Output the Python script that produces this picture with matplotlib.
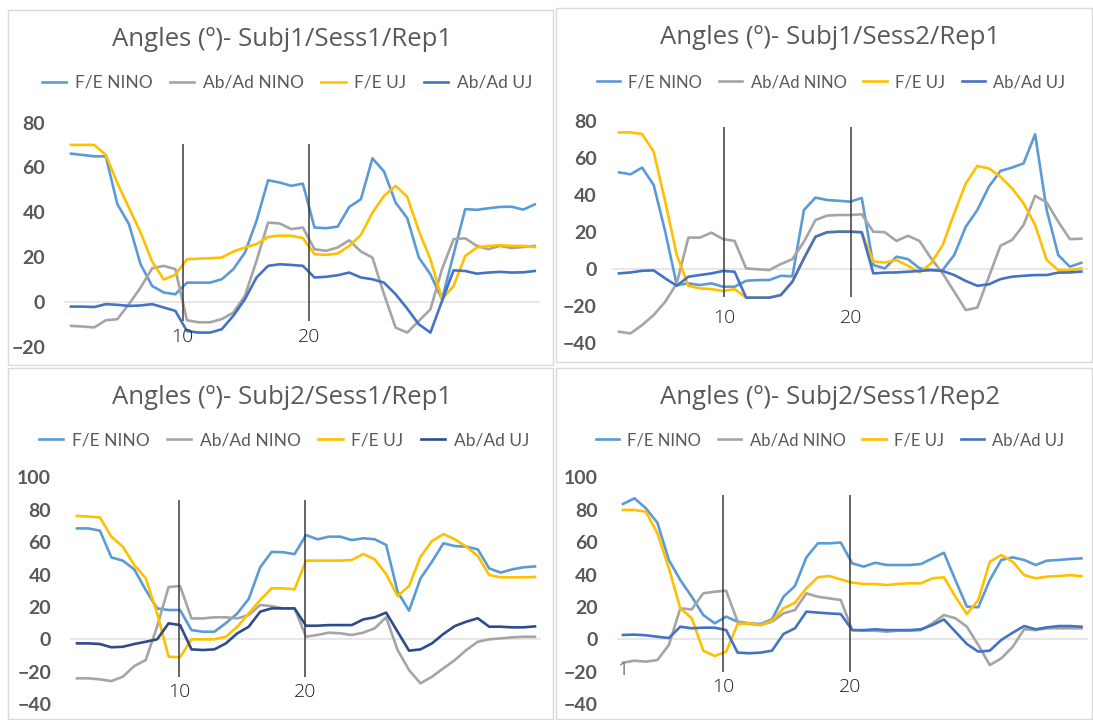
import numpy as np
import matplotlib.pyplot as plt
from matplotlib.lines import Line2D
from matplotlib.patches import Rectangle

plt.rcParams['font.family'] = ['Lato', 'DejaVu Sans']

labels = ["F/E NINO", "Ab/Ad NINO", "F/E UJ", "Ab/Ad UJ"]
titles = ["Angles (º)- Subj1/Sess1/Rep1", "Angles (º)- Subj1/Sess2/Rep1",
          "Angles (º)- Subj2/Sess1/Rep1", "Angles (º)- Subj2/Sess1/Rep2"]

# Subj1 / Sess1 / Rep1
s1s1r1_fe_nino = [66.2, 65.6, 65.0, 65.0, 43.6, 34.7, 16.8, 7.1, 4.2, 3.4, 8.6, 8.6, 8.6, 10.1,
                  14.6, 22.0, 36.2, 54.3, 53.3, 51.8, 52.8, 33.2, 32.9, 33.6, 42.4, 45.8, 64.1,
                  58.2, 44.3, 37.4, 19.8, 12.3, 1.2, 21.3, 41.4, 41.1, 41.8, 42.4, 42.5, 41.2, 43.5]
s1s1r1_ab_nino = [-10.7, -11.0, -11.4, -8.2, -7.7, -1.0, 6.4, 15.0, 16.1, 14.6, -8.2, -9.1, -9.1,
                  -7.7, -4.8, 2.7, 18.3, 35.4, 35.0, 32.5, 33.2, 23.5, 22.8, 24.3, 27.5, 22.5,
                  19.8, 3.4, -11.5, -13.7, -8.5, -3.3, 14.6, 28.0, 28.4, 25.0, 23.5, 25.0, 24.0,
                  24.5, 25.0]
s1s1r1_fe_uj = [70.1, 70.1, 70.1, 65.6, 53.0, 42.0, 31.0, 18.0, 10.0, 12.1, 19.0, 19.3, 19.5,
                19.8, 22.5, 24.3, 25.8, 29.0, 29.6, 29.5, 28.5, 21.3, 21.0, 21.6, 25.0, 29.9,
                39.9, 47.3, 51.8, 46.9, 31.7, 19.0, 1.2, 7.1, 20.5, 24.3, 25.0, 25.3, 25.0, 25.0,
                24.5]
s1s1r1_ab_uj = [-2.1, -2.1, -2.3, -1.0, -1.3, -1.8, -1.6, -1.0, -2.5, -4.0, -13.0, -13.7, -13.7,
                -12.2, -6.2, 1.2, 10.9, 16.1, 16.8, 16.5, 16.1, 10.9, 11.2, 11.9, 13.1, 10.9,
                10.1, 8.6, 3.4, -3.0, -10.0, -13.7, 0.4, 14.1, 13.8, 12.6, 13.1, 13.4, 13.1, 13.2,
                13.8]

# Subj1 / Sess2 / Rep1
s1s2r1_fe_nino = [52.3, 51.3, 54.9, 45.5, 20.3, -8.5, -7.6, -8.5, -7.6, -9.4, -9.4, -6.2, -5.8,
                  -5.8, -3.5, -3.8, 32.0, 38.7, 37.4, 37.0, 36.5, 38.5, 2.3, 0.5, 6.8, 5.5, 0.5,
                  -0.4, -0.4, 7.7, 23.0, 32.0, 44.6, 53.1, 54.9, 57.2, 72.9, 32.0, 7.7, 1.4, 3.5]
s1s2r1_ab_nino = [-33.7, -34.6, -30.1, -24.7, -17.5, -7.6, 17.1, 17.1, 19.8, 16.3, 15.3, 0.5, 0.0,
                  -0.4, 2.8, 5.5, 14.9, 26.6, 29.0, 29.3, 29.3, 29.7, 20.3, 20.0, 15.3, 18.1, 15.3,
                  5.9, -2.2, -12.1, -22.0, -20.7, -4.0, 12.7, 15.8, 23.9, 39.7, 36.1, 25.7, 16.3,
                  16.5]
s1s2r1_fe_uj = [73.9, 73.9, 73.0, 63.5, 36.5, 7.7, -8.9, -10.3, -10.7, -11.7, -10.7, -15.3, -15.3,
                -15.3, -13.9, -6.7, 5.9, 17.6, 20.0, 20.3, 20.3, 20.0, 4.1, 3.7, 5.0, 1.9, -1.7,
                3.2, 13.1, 30.2, 46.4, 55.8, 54.5, 50.0, 43.7, 35.6, 23.9, 5.0, -0.4, -0.4, 0.5]
s1s2r1_ab_uj = [-2.2, -1.7, -0.8, -0.6, -4.9, -8.9, -4.0, -3.1, -2.2, -0.9, -1.3, -15.3, -15.3,
                -15.3, -13.9, -6.7, 5.9, 17.6, 20.0, 20.3, 20.3, 20.0, -2.2, -1.8, -1.7, -1.3,
                -0.9, -0.4, -0.9, -3.1, -6.3, -8.9, -8.1, -5.3, -4.0, -3.5, -3.1, -3.1, -1.8,
                -1.7, -1.2]

# Subj2 / Sess1 / Rep1
s2s1r1_fe_nino = [68.5, 68.5, 67.1, 50.6, 48.6, 43.2, 30.5, 19.1, 18.1, 18.1, 5.7, 4.7, 4.7, 10.0,
                  16.0, 25.0, 44.5, 54.0, 53.8, 52.6, 64.4, 61.8, 63.4, 63.4, 61.3, 62.4, 61.8,
                  58.3, 29.4, 17.7, 37.6, 47.9, 59.3, 57.6, 57.2, 55.6, 43.8, 41.2, 43.2, 44.5,
                  45.0]
s2s1r1_ab_nino = [-24.1, -24.1, -24.7, -25.8, -23.1, -16.5, -12.8, 8.0, 32.3, 32.9, 12.9, 12.9,
                  13.6, 13.6, 12.9, 15.0, 21.2, 20.5, 19.1, 19.1, 1.6, 2.7, 4.1, 3.7, 2.7, 4.1,
                  6.8, 13.6, -6.6, -19.0, -27.2, -23.1, -17.9, -12.8, -6.6, -1.5, 0.0, 0.6, 1.2,
                  1.6, 1.6]
s2s1r1_fe_uj = [76.2, 75.8, 75.3, 63.4, 57.2, 45.9, 37.7, 16.0, -10.7, -11.1, 0.0, 0.0, 0.0, 1.6,
                7.8, 16.0, 24.3, 31.5, 31.5, 30.9, 48.6, 48.6, 48.6, 48.6, 49.0, 52.7, 49.4, 40.3,
                26.7, 32.9, 51.0, 60.7, 65.0, 61.8, 57.2, 51.5, 39.7, 38.3, 38.3, 38.3, 38.5]
s2s1r1_ab_uj = [-2.5, -2.5, -2.9, -4.9, -4.6, -2.9, -1.5, 0.0, 9.9, 8.8, -6.2, -6.6, -6.2, -2.5,
                3.7, 7.8, 17.1, 19.1, 19.1, 19.1, 8.4, 8.4, 8.8, 8.8, 8.8, 12.3, 13.6, 16.5, 4.7,
                -7.0, -6.2, -2.5, 3.3, 8.2, 10.9, 13.0, 7.8, 7.8, 7.4, 7.4, 8.0]

# Subj2 / Sess1 / Rep2
s2s1r2_fe_nino = [83.6, 87.1, 80.9, 72.0, 49.0, 36.6, 26.3, 15.0, 9.9, 14.0, 10.9, 9.9, 9.5, 12.3,
                  26.3, 32.9, 50.6, 59.3, 59.3, 59.8, 46.9, 44.9, 47.3, 45.9, 45.9, 45.9, 46.5,
                  50.0, 53.5, 36.6, 20.2, 19.8, 36.6, 49.0, 50.6, 49.0, 45.9, 48.6, 49.0, 49.6,
                  50.0]
s2s1r2_ab_nino = [-14.4, -13.2, -13.8, -12.8, -3.5, 19.1, 18.5, 28.4, 29.4, 30.0, 10.9, 9.5, 8.8,
                  10.9, 16.0, 18.1, 28.4, 26.3, 25.3, 24.3, 5.7, 5.3, 5.3, 4.7, 5.3, 5.3, 5.7, 9.9,
                  15.0, 13.0, 7.8, -3.5, -15.9, -11.8, -4.6, 6.2, 5.7, 6.8, 6.8, 6.8, 6.8]
s2s1r2_fe_uj = [79.9, 79.9, 78.8, 65.5, 44.0, 19.1, 13.0, -7.0, -10.3, -7.6, 9.5, 9.9, 8.8, 11.5,
                19.1, 22.6, 31.5, 38.3, 39.1, 37.0, 35.0, 34.2, 34.2, 33.5, 34.2, 34.6, 34.6, 37.7,
                38.3, 26.3, 15.6, 24.3, 47.9, 52.1, 47.9, 39.7, 37.7, 38.7, 39.1, 39.7, 39.0]
s2s1r2_ab_uj = [2.7, 2.9, 2.5, 1.6, 0.8, 7.8, 6.8, 7.2, 7.2, 5.7, -8.2, -8.6, -8.2, -7.0, 3.3,
                6.8, 17.1, 16.5, 16.0, 15.6, 5.7, 5.7, 6.2, 5.7, 5.7, 5.7, 6.2, 8.8, 12.3, 4.7,
                -2.9, -7.6, -7.0, -0.4, 4.1, 8.2, 6.2, 7.4, 8.2, 8.2, 7.8]

data = [
    [s1s1r1_fe_nino, s1s1r1_ab_nino, s1s1r1_fe_uj, s1s1r1_ab_uj],
    [s1s2r1_fe_nino, s1s2r1_ab_nino, s1s2r1_fe_uj, s1s2r1_ab_uj],
    [s2s1r1_fe_nino, s2s1r1_ab_nino, s2s1r1_fe_uj, s2s1r1_ab_uj],
    [s2s1r2_fe_nino, s2s1r2_ab_nino, s2s1r2_fe_uj, s2s1r2_ab_uj],
]

blue, grey, gold, navy = '#5B9BD5', '#A5A5A5', '#FFC000', '#4472C4'

# pixel layout of each chart: plot box, chart frame, title / legend centres
layout = [
    dict(box=(64, 540, 122.7, 346.7), frame=(8, 553, 10, 365), title=(282, 40), leg=(287, 83),
         xlim=(0.602, 38.29), ylim=(-20, 80), t0=1.156, dt=0.918, vl=(-8.5, 70.5), lab=-15.7,
         pad=13.5, dark=navy, lsize=12.5),
    dict(box=(612, 1088, 121.1, 343.4), frame=(556, 1092, 8, 362), title=(830, 38), leg=(831, 82),
         xlim=(1.153, 38.75), ylim=(-40, 80), t0=1.706, dt=0.913, vl=(-15.2, 77), lab=-26.3,
         pad=11, dark=navy, lsize=12),
    dict(box=(70, 541, 477.4, 704.1), frame=(8, 553, 368, 719), title=(282, 397), leg=(284, 440),
         xlim=(1.349, 38.73), ylim=(-40, 100), t0=1.905, dt=0.9087, vl=(-23.4, 86), lab=-32.4,
         pad=13.5, dark='#2F4B8A', lsize=12.5),
    dict(box=(617, 1088, 477.4, 704.1), frame=(556, 1092, 368, 719), title=(830, 397), leg=(830, 440),
         xlim=(1.61, 38.78), ylim=(-40, 100), t0=2.084, dt=0.9045, vl=(-20, 89.1), lab=-29.3,
         pad=14, dark=navy, lsize=12),
]

W, H = 1093, 720
fig = plt.figure(figsize=(W / 100, H / 100), dpi=100)
fig.patch.set_facecolor('white')

for i, (series, lay) in enumerate(zip(data, layout)):
    fx0, fx1, fy0, fy1 = lay['frame']
    fig.patches.append(Rectangle((fx0 / W, 1 - fy1 / H), (fx1 - fx0) / W, (fy1 - fy0) / H,
                                 transform=fig.transFigure, fill=False, ec='#D9D9D9', lw=1))

    x0, x1, y0, y1 = lay['box']
    ax = fig.add_axes([x0 / W, 1 - y1 / H, (x1 - x0) / W, (y1 - y0) / H])
    ax.set_facecolor('none')
    colors = [blue, grey, gold, lay['dark']]

    t = lay['t0'] + lay['dt'] * np.arange(len(series[0]))
    ax.axhline(0, color='#E3E3E3', lw=1.2, zorder=1)
    for vals, c in zip(series, colors):
        ax.plot(t, vals, color=c, lw=1.9, solid_joinstyle='round', zorder=3)

    # hand-placed markers at 10 and 20
    for m in (10, 20):
        ax.vlines(m, lay['vl'][0], lay['vl'][1], color='#3A3A3A', lw=1.1, zorder=4)
        ax.text(m, lay['lab'], str(m), ha='center', va='center', fontsize=14,
                color='#1E1E1E', family=['Open Sans', 'DejaVu Sans'], fontweight='light',
                zorder=5)
    if i == 3:
        ax.text(t[0], -19, '1', ha='center', va='center', fontsize=14, color='#7F7F7F',
                family=['Open Sans', 'DejaVu Sans'])

    ax.set_xlim(*lay['xlim'])
    ax.set_ylim(*lay['ylim'])
    ax.set_xticks([])
    ax.set_yticks(np.arange(lay['ylim'][0], lay['ylim'][1] + 1, 20))
    ax.tick_params(axis='y', length=0, pad=lay['pad'], labelsize=14, labelcolor='#595959')
    for lbl in ax.get_yticklabels():
        lbl.set_fontweight('bold')
    for s in ax.spines.values():
        s.set_visible(False)

    fig.text(lay['title'][0] / W, 1 - lay['title'][1] / H, titles[i], ha='center', va='center',
             fontsize=18.5, color='#595959', family=['Open Sans', 'DejaVu Sans'])

    handles = [Line2D([], [], color=c, lw=1.9) for c in colors]
    fig.legend(handles, labels, loc='center', ncol=4, frameon=False, fontsize=lay['lsize'],
               labelcolor='#595959', handlelength=1.4, handletextpad=0.5, columnspacing=1.0,
               bbox_to_anchor=(lay['leg'][0] / W, 1 - lay['leg'][1] / H))

fig.savefig('out.png', dpi=100, facecolor='white')
